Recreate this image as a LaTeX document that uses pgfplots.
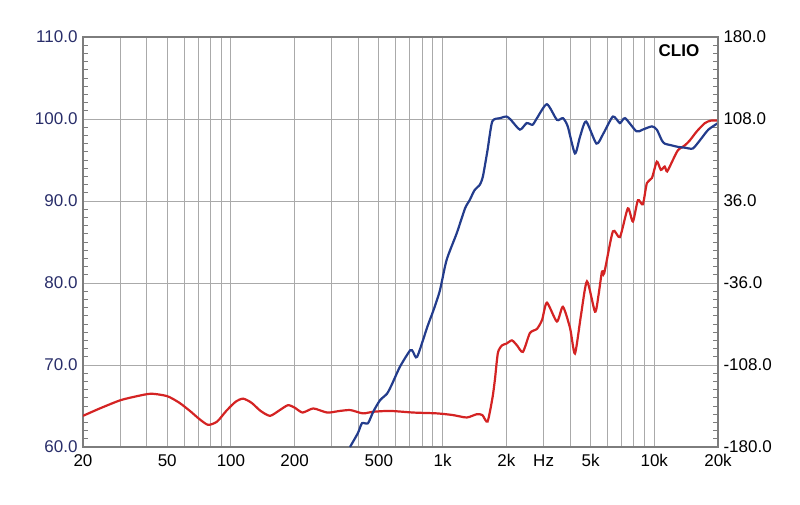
\documentclass[border=0pt]{standalone}
\usepackage{fontspec}
\setmainfont{Liberation Sans}
\usepackage{pgfplots}
\pgfplotsset{compat=1.18}
\definecolor{splblue}{RGB}{35,60,140}
\definecolor{phasered}{RGB}{212,35,35}
\definecolor{labelnavy}{RGB}{40,45,105}
\definecolor{gridgray}{RGB}{170,170,170}
\definecolor{framegray}{RGB}{125,125,125}
\newcommand{\lblfont}{\fontsize{17}{20}\selectfont}

\begin{document}
\begin{tikzpicture}
\path[use as bounding box] (-83pt,-57pt) rectangle (717pt,447pt);
% SPL axis (left) -------------------------
\begin{axis}[
    scale only axis,
    width=635pt, height=410pt,
    xmode=log,
    xmin=20, xmax=20000,
    ymin=60, ymax=110,
    axis line style={framegray, line width=2pt},
    tick label style={font=\lblfont},
    /pgf/number format/assume math mode=true,
    tick align=inside,
    major tick length=5pt,
    minor tick length=5pt,
    tick style={gridgray, line width=1pt},
    ytick={60,70,...,110},
    minor ytick={61,62,...,109},
    minor y tick style={framegray, line width=0.9pt},
    xtick={20,30,40,50,60,70,80,90,100,200,300,400,500,600,700,800,900,
           1000,2000,3000,4000,5000,6000,7000,8000,9000,10000,20000},
    xticklabels={{20},{},{},{50},{},{},{},{},{100},{200},{},{},{500},{},{},{},{},
           {1k},{2k},{Hz},{},{5k},{},{},{},{},{10k},{20k}},
    xmajorgrids, ymajorgrids,
    major grid style={gridgray, line width=1pt},
    xticklabel style={yshift=-4pt},
    yticklabel style={labelnavy, xshift=-2pt},
    yticklabel={\pgfmathprintnumber[fixed,fixed zerofill,precision=1]{\tick}},
    ytick pos=both,
    yticklabel pos=left,
]
\addplot[phasered, line width=2.2pt, smooth, tension=0.4] coordinates {
(20,63.8) (24,64.7) (30,65.7) (36,66.2) (42,66.5) (50,66.2) (57,65.4)
(64,64.4) (71,63.4) (78,62.7) (86,63.1) (95,64.4) (105,65.5) (114,65.9)
(125,65.4) (138,64.4) (153,63.8) (170,64.5) (186,65.1) (200,64.8)
(218,64.2) (245,64.7) (285,64.2) (327,64.4) (367,64.5) (420,64.1)
(471,64.3) (565,64.4) (730,64.2) (940,64.1) (1115,63.9) (1300,63.6)
(1450,64.0) (1540,63.9) (1630,63.1) (1720,66.0) (1766,68.2) (1825,71.5)
(1910,72.4) (2000,72.6) (2125,73.0) (2245,72.4) (2395,71.6) (2585,73.9)
(2790,74.4) (2950,75.5) (3110,77.6) (3467,75.3) (3700,77.1) (4000,74.5)
(4218,71.4) (4500,76.0) (4808,80.2) (5247,76.5) (5450,78.5) (5660,81.4)
(5800,81.2) (6375,86.3) (6880,85.6) (7500,89.1) (7925,87.5) (8370,90.1)
(8830,89.6) (9230,92.2) (9745,92.8) (10280,94.8) (10740,93.8) (11200,94.2)
(11500,93.6) (12240,95.0) (12940,96.2) (13960,96.8) (14730,97.4)
(15890,98.5) (17340,99.5) (18500,99.8) (20000,99.8)
};
\addplot[splblue, line width=2.2pt, smooth, tension=0.4] coordinates {
(365,60.0) (398,61.7) (416,62.9) (444,62.9) (470,64.3) (506,65.7)
(546,66.5) (575,67.6) (629,69.8) (703,71.8) (725,71.6) (758,71.0)
(848,74.7) (906,76.7) (971,79.1) (1044,82.8) (1167,86.1) (1276,89.1)
(1342,90.1) (1414,91.3) (1500,92.0) (1550,93.0) (1630,96.2) (1716,99.7)
(1866,100.1) (2005,100.3) (2100,99.9) (2318,98.7) (2495,99.5) (2660,99.3)
(2790,100.1) (3110,101.8) (3467,99.9) (3700,100.1) (3900,99.1) (4218,95.8)
(4453,97.8) (4760,99.7) (5330,97.0) (5740,98.2) (6375,100.3) (6880,99.5)
(7280,100.1) (8230,98.5) (8800,98.7) (9745,99.1) (10280,98.7) (10850,97.4)
(11200,97.0) (12000,96.8) (12940,96.6) (13960,96.5) (15200,96.4)
(16425,97.4) (18000,98.7) (20000,99.5)
};
\node[anchor=east, text=labelnavy, font=\lblfont, inner sep=0pt, xshift=-7pt]
    at (rel axis cs:0,0.9) {dBSPL};
\node[font=\lblfont\bfseries, inner sep=0pt]
    at (rel axis cs:0.9386,0.966) {CLIO};
\end{axis}

% phase axis (right) ---------------------
\begin{axis}[
    scale only axis,
    width=635pt, height=410pt,
    xmin=0, xmax=1,
    ymin=-180, ymax=180,
    axis line style={framegray, line width=2pt},
    tick label style={font=\lblfont},
    /pgf/number format/assume math mode=true,
    major tick length=0pt,
    ytick={-180,-108,...,180},
    axis y line*=right,
    axis x line=none,
    yticklabel style={black, xshift=2pt},
    yticklabel={\pgfmathprintnumber[fixed,fixed zerofill,precision=1]{\tick}},
]
\addplot[draw=none] coordinates {(0,0) (1,0)};
\node[anchor=west, font=\lblfont, inner sep=0pt, xshift=7pt]
    at (rel axis cs:1,0.9) {Deg};
\end{axis}
\end{tikzpicture}
\end{document}
